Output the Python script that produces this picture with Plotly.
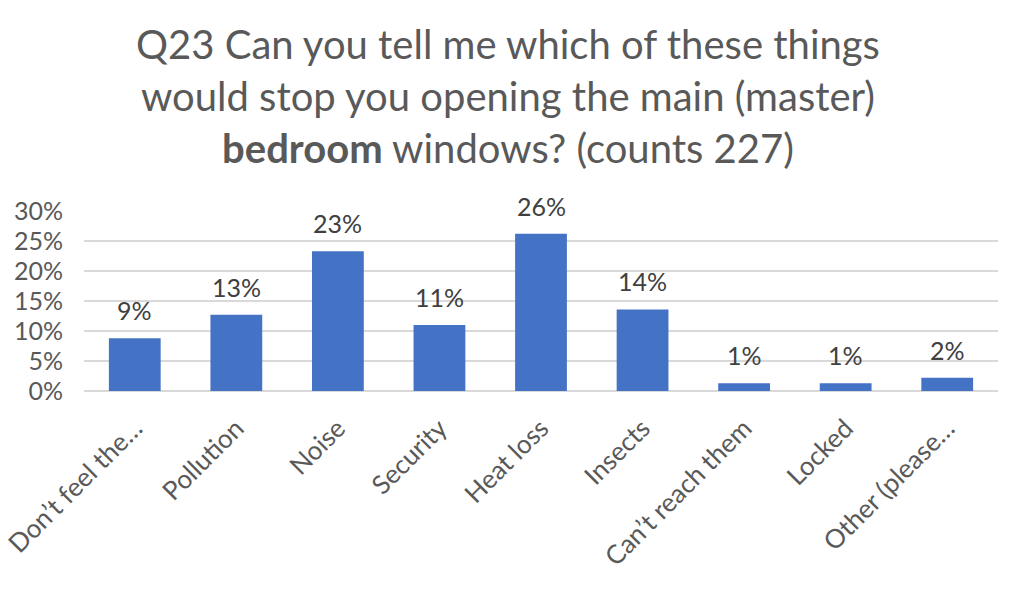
import plotly.graph_objects as go

## chart data
categories = ["Don’t feel the…", "Pollution", "Noise", "Security", "Heat loss",
              "Insects", "Can’t reach them", "Locked", "Other (please…"]
shares = [0.088, 0.127, 0.233, 0.110, 0.262, 0.136, 0.013, 0.013, 0.022]
y_ticks = [0, 0.05, 0.10, 0.15, 0.20, 0.25, 0.30]

FONT = "Lato"
GREY = "#595959"

fig = go.Figure(go.Bar(
    x=categories,
    y=shares,
    marker=dict(color="#4472C4", line=dict(width=0)),
    width=0.51,
))

# data labels sit a little above each bar, as in the Excel original
for cat, val in zip(categories, shares):
    fig.add_annotation(x=cat, y=val, text=f"{val:.0%}", showarrow=False,
                       yanchor="bottom", yshift=11,
                       font=dict(family=FONT, size=25, color="#404040"))

# three-line title, placed as an annotation so every line stays on the page
fig.add_annotation(
    text="Q23 Can you tell me which of these things<br>"
         "would stop you opening the main (master)<br>"
         "<b>bedroom</b> windows? (counts 227)",
    xref="paper", yref="paper", x=0.464, y=2.07,
    xanchor="center", yanchor="top", showarrow=False, align="center",
    font=dict(family=FONT, size=40, color=GREY),
)

layout = go.Layout(
    width=1022,
    height=600,
    template="plotly_white",
    paper_bgcolor="white",
    plot_bgcolor="white",
    showlegend=False,
    margin=dict(l=76, r=32, t=203, b=217),
    font=dict(family=FONT, size=25, color=GREY),
    bargap=0.49,
    xaxis=dict(
        automargin=False,
        tickangle=-45,
        tickfont=dict(family=FONT, size=26, color=GREY),
        ticklabelstandoff=16,
        showgrid=False,
        showline=False,
        ticks="",
    ),
    yaxis=dict(
        automargin=False,
        range=[0, 0.30],
        tickvals=y_ticks,
        tickformat=".0%",
        tickfont=dict(family=FONT, size=25, color=GREY),
        ticklabelstandoff=20,
        gridcolor="#D9D9D9",
        gridwidth=2,
        zeroline=True,
        zerolinecolor="#D9D9D9",
        zerolinewidth=2,
        showline=False,
        ticks="",
        ticklen=0,
    ),
)

fig.update_layout(layout)
fig.write_html("out.html")
